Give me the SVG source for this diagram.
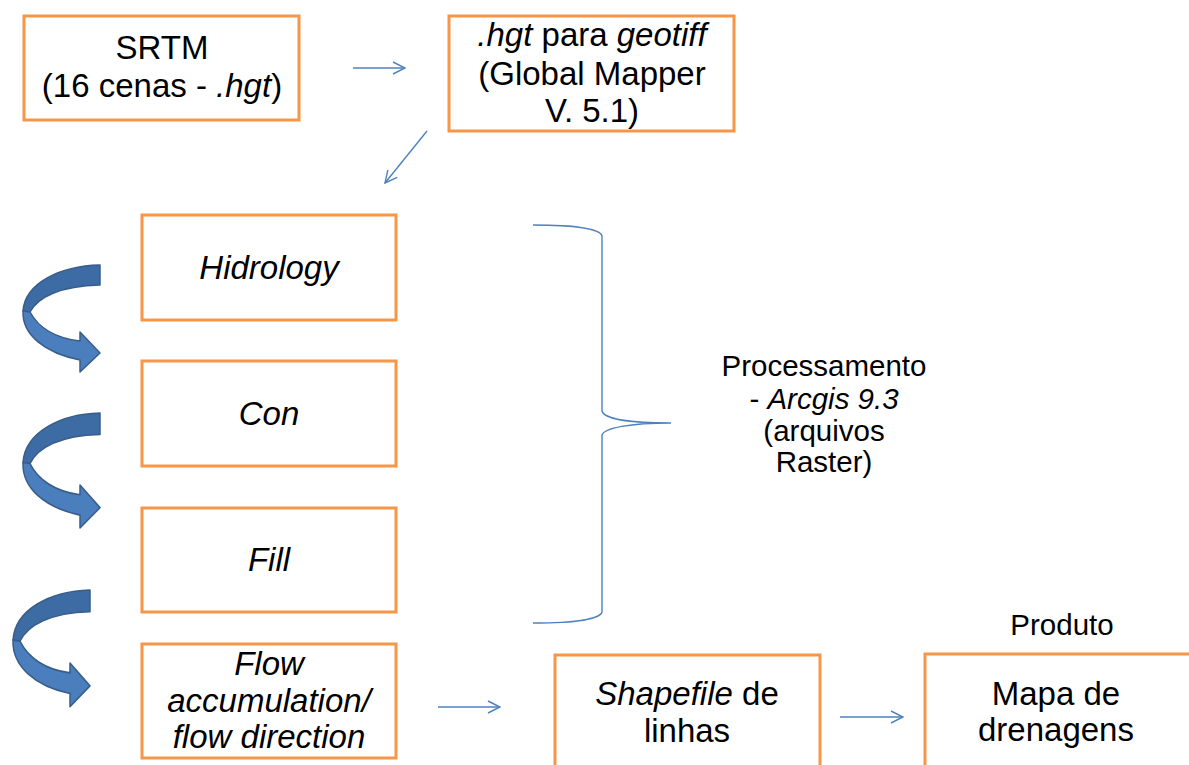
<svg xmlns="http://www.w3.org/2000/svg" width="1189" height="765" viewBox="0 0 1189 765">
<defs>
<style>
.box{fill:#fff;stroke:#F79646;stroke-width:3}
.t{font-family:"Liberation Sans",Arial,sans-serif;font-size:33px;fill:#000;text-anchor:middle}
.s{font-family:"Liberation Sans",Arial,sans-serif;font-size:29.5px;fill:#000;text-anchor:middle}
.i{font-style:italic}
.con{fill:none;stroke:#4F81BD;stroke-width:1.4}
.dk{fill:#3D6BA3;stroke:#385D8A;stroke-width:1.5;stroke-linejoin:round}
.lt{fill:#4A7EBD;stroke:#385D8A;stroke-width:1.5;stroke-linejoin:round}
</style>
<marker id="ah" viewBox="0 0 14 14" refX="13" refY="7" markerWidth="14" markerHeight="14" markerUnits="userSpaceOnUse" orient="auto">
<path d="M1,1 L13,7 L1,13" fill="none" stroke="#4F81BD" stroke-width="1.4"/>
</marker>
<g id="curl">
<path class="dk" d="M100,0 C60,1 25,18 23,46 L30,47 C38,32 60,21 100,20 Z"/>
<path class="lt" d="M23,46 C22,70 45,88 80,95 L80,107 L100,88 L80,67 L80,76 C55,73 38,62 30,47 Z"/>
</g>
</defs>
<rect width="1189" height="765" fill="#fff"/>

<g id="connectors">
<line class="con" x1="353" y1="68" x2="405" y2="68" marker-end="url(#ah)"/>
<line class="con" x1="427" y1="131" x2="385" y2="183" marker-end="url(#ah)"/>
<line class="con" x1="438" y1="707" x2="500" y2="707" marker-end="url(#ah)"/>
<line class="con" x1="840" y1="717" x2="903" y2="717" marker-end="url(#ah)"/>
<path class="con" d="M533,225 C575,225 600,229 602,236 L602,411 C604,419 630,423 671,423 C630,423 604,428 602,435 L602,612 C600,619 575,623 533,623"/>
<use href="#curl" transform="translate(0,265)"/>
<use href="#curl" transform="translate(0,413) scale(1,1.075)"/>
<use href="#curl" transform="translate(-10,590) scale(1,1.09)"/>
</g>

<g id="srtm">
<rect class="box" x="24" y="16" width="275" height="104"/>
<text class="t" x="162" y="59">SRTM</text>
<text class="t" x="162" y="97">(16 cenas - <tspan class="i">.hgt</tspan>)</text>
</g>

<g id="hgt">
<rect class="box" x="449" y="16" width="285" height="115"/>
<text class="t" x="592" y="46"><tspan class="i">.hgt</tspan> para <tspan class="i">geotiff</tspan></text>
<text class="t" x="592" y="85">(Global Mapper</text>
<text class="t" x="592" y="122">V. 5.1)</text>
</g>

<g id="hidrology">
<rect class="box" x="142" y="215" width="254" height="105"/>
<text class="t i" x="269" y="279">Hidrology</text>
</g>

<g id="con">
<rect class="box" x="142" y="361" width="254" height="105"/>
<text class="t i" x="269" y="425">Con</text>
</g>

<g id="fill">
<rect class="box" x="142" y="508" width="254" height="104"/>
<text class="t i" x="269" y="571">Fill</text>
</g>

<g id="flow">
<rect class="box" x="142" y="644" width="254" height="114"/>
<text class="t i" x="269" y="675">Flow</text>
<text class="t i" x="269" y="712">accumulation/</text>
<text class="t i" x="269" y="748">flow direction</text>
</g>

<g id="processamento">
<text class="s" x="824" y="376">Processamento</text>
<text class="s" x="824" y="409">- <tspan class="i">Arcgis 9.3</tspan></text>
<text class="s" x="824" y="441">(arquivos</text>
<text class="s" x="824" y="472">Raster)</text>
</g>

<g id="shapefile">
<rect class="box" x="555" y="655" width="265" height="116"/>
<text class="t" x="687" y="705"><tspan class="i">Shapefile</tspan> de</text>
<text class="t" x="687" y="742">linhas</text>
</g>

<g id="produto">
<text class="s" x="1062" y="635">Produto</text>
</g>

<g id="mapa">
<rect class="box" x="925" y="654" width="268" height="116"/>
<text class="t" x="1056" y="705">Mapa de</text>
<text class="t" x="1056" y="741">drenagens</text>
</g>
</svg>
